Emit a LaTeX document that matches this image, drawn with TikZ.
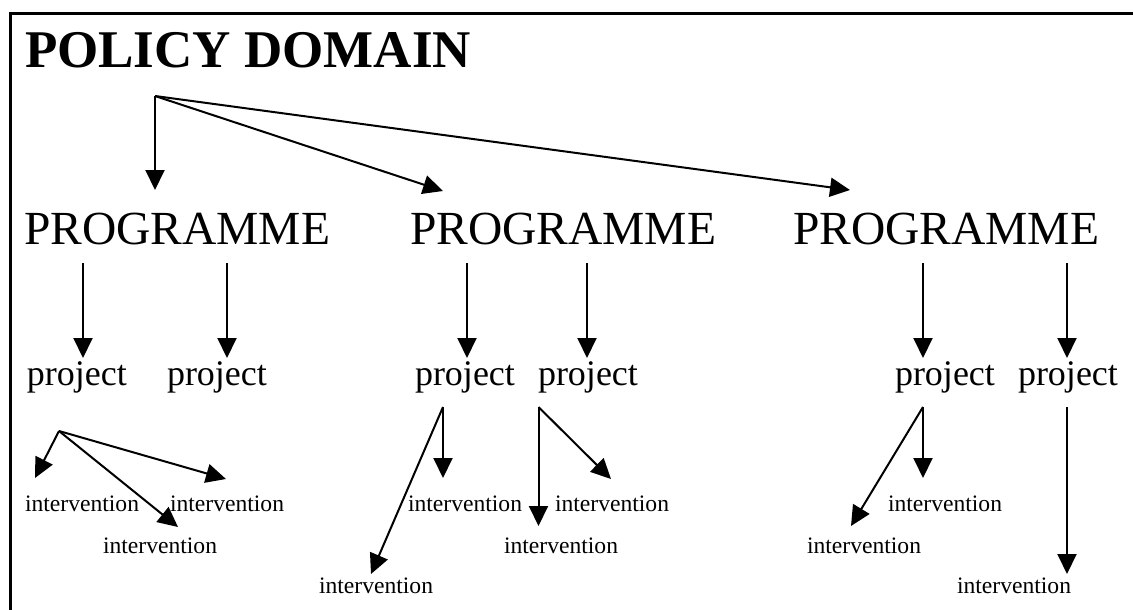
\documentclass[tikz,border=0pt]{standalone}
\usepackage{fontspec}
\setmainfont{Liberation Serif}
\usetikzlibrary{arrows.meta}
\begin{document}
\begin{tikzpicture}[x=1pt,y=-1pt,
  lbl/.style={anchor=base west, inner sep=0pt, outer sep=0pt},
  titletxt/.style={lbl, font=\fontsize{53}{60}\selectfont\bfseries},
  progtxt/.style={lbl, font=\fontsize{47.5}{55}\selectfont},
  projtxt/.style={lbl, font=\fontsize{36}{42}\selectfont},
  intvtxt/.style={lbl, font=\fontsize{23.6}{28}\selectfont},
  arr/.style={line width=2pt, -{Triangle[length=20pt,width=19pt]}},
  framestroke/.style={line width=3pt}]
\useasboundingbox (0,0) rectangle (1133,610);
\fill[white] (0,0) rectangle (1133,610);
% frame (only top and left visible)
\coordinate (fr-bl) at (10,610);
\coordinate (fr-tl) at (10,14);
\coordinate (fr-tr) at (1133,14);
\draw[framestroke] (fr-bl) -- (fr-tl) -- (fr-tr);

% texts
\node[titletxt] (pd) at (25,67) {POLICY DOMAIN};
\node[progtxt] (pg1) at (24,244) {PROGRAMME};
\node[progtxt] (pg2) at (410,244) {PROGRAMME};
\node[progtxt] (pg3) at (793,244) {PROGRAMME};
\node[projtxt] (pj1) at (27,385) {project};
\node[projtxt] (pj2) at (167,385) {project};
\node[projtxt] (pj3) at (415,385) {project};
\node[projtxt] (pj4) at (538,385) {project};
\node[projtxt] (pj5) at (895,385) {project};
\node[projtxt] (pj6) at (1018,385) {project};
\node[intvtxt] (iv1) at (25,511) {intervention};
\node[intvtxt] (iv2) at (170,511) {intervention};
\node[intvtxt] (iv3) at (103,553) {intervention};
\node[intvtxt] (iv4) at (319,593) {intervention};
\node[intvtxt] (iv5) at (408,511) {intervention};
\node[intvtxt] (iv6) at (555,511) {intervention};
\node[intvtxt] (iv7) at (504,553) {intervention};
\node[intvtxt] (iv8) at (888,511) {intervention};
\node[intvtxt] (iv9) at (807,553) {intervention};
\node[intvtxt] (iv10) at (957,593) {intervention};

% policy domain -> programmes
\coordinate (pd-src) at (155,96);
\coordinate (pg1-tip) at (155,190);
\coordinate (pg2-tip) at (443,191);
\coordinate (pg3-tip) at (850,190);
\draw[arr] (pd-src) -- (pg1-tip);
\draw[arr] (pd-src) -- (pg2-tip);
\draw[arr] (pd-src) -- (pg3-tip);

% programmes -> projects
\coordinate (pg1-a) at (83,263);  \coordinate (pj1-tip) at (83,358);
\coordinate (pg1-b) at (227,263); \coordinate (pj2-tip) at (227,358);
\coordinate (pg2-a) at (467,263); \coordinate (pj3-tip) at (467,358);
\coordinate (pg2-b) at (587,263); \coordinate (pj4-tip) at (587,358);
\coordinate (pg3-a) at (923,263); \coordinate (pj5-tip) at (923,358);
\coordinate (pg3-b) at (1067,263);\coordinate (pj6-tip) at (1067,358);
\draw[arr] (pg1-a) -- (pj1-tip);
\draw[arr] (pg1-b) -- (pj2-tip);
\draw[arr] (pg2-a) -- (pj3-tip);
\draw[arr] (pg2-b) -- (pj4-tip);
\draw[arr] (pg3-a) -- (pj5-tip);
\draw[arr] (pg3-b) -- (pj6-tip);

% projects -> interventions
\coordinate (pj1-src) at (59,431);
\coordinate (iv1-tip) at (35,478);
\coordinate (iv3-tip) at (178,527);
\coordinate (iv2-tip) at (226,479);
\draw[arr] (pj1-src) -- (iv1-tip);
\draw[arr] (pj1-src) -- (iv3-tip);
\draw[arr] (pj1-src) -- (iv2-tip);

\coordinate (pj3-src) at (443,407);
\coordinate (iv5-tip) at (443,478);
\coordinate (iv4-tip) at (371,574);
\draw[arr] (pj3-src) -- (iv5-tip);
\draw[arr] (pj3-src) -- (iv4-tip);

\coordinate (pj4-src) at (538.5,407);
\coordinate (iv7-tip) at (538.5,526);
\coordinate (iv6-tip) at (611,479);
\draw[arr] (pj4-src) -- (iv7-tip);
\draw[arr] (pj4-src) -- (iv6-tip);

\coordinate (pj5-src) at (923,407);
\coordinate (iv8-tip) at (923,478);
\coordinate (iv9-tip) at (851,526);
\draw[arr] (pj5-src) -- (iv8-tip);
\draw[arr] (pj5-src) -- (iv9-tip);

\coordinate (pj6-src) at (1067,407);
\coordinate (iv10-tip) at (1067,574);
\draw[arr] (pj6-src) -- (iv10-tip);
\end{tikzpicture}
\end{document}
